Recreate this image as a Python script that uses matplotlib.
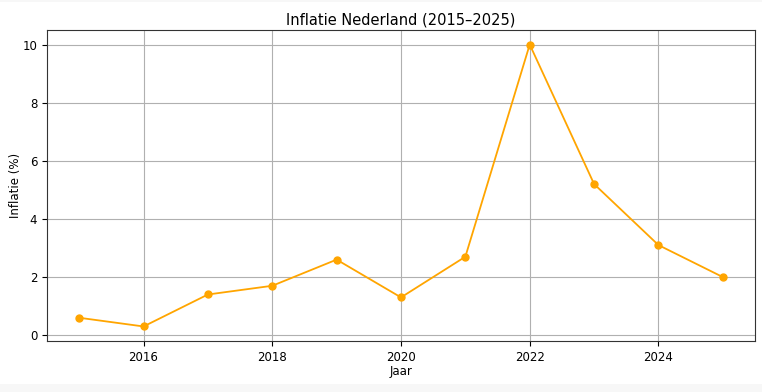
import matplotlib.pyplot as plt
from matplotlib.patches import Rectangle

jaren = [2015, 2016, 2017, 2018, 2019, 2020, 2021, 2022, 2023, 2024, 2025]
inflatie = [0.6, 0.3, 1.4, 1.7, 2.6, 1.3, 2.7, 10.0, 5.2, 3.1, 2.0]

fig = plt.figure(figsize=(7.62, 3.92), dpi=100, facecolor='#f7f7f7')
fig.patches.append(Rectangle((0, 8 / 392), 1, 382 / 392, transform=fig.transFigure,
                             facecolor='white', edgecolor='none', zorder=-1))
ax = fig.add_axes([47 / 762, 51 / 392, 708 / 762, 311 / 392])

ax.plot(jaren, inflatie, marker='o', color='orange', markersize=5, linewidth=1.3)
ax.set_title('Inflatie Nederland (2015–2025)', fontsize=10.5, pad=4)
ax.set_xlabel('Jaar', fontsize=8.5, labelpad=1)
ax.set_ylabel('Inflatie (%)', fontsize=8.5, labelpad=0)
ax.tick_params(labelsize=8.5)
ax.grid(True, color='#b0b0b0', linewidth=0.8)
ax.set_axisbelow(True)
ax.set_xlim(2014.5, 2025.5)
ax.set_ylim(-0.2, 10.5)
for s in ax.spines.values():
    s.set_color('#333333')

fig.savefig('out.png', dpi=100, facecolor=fig.get_facecolor())
